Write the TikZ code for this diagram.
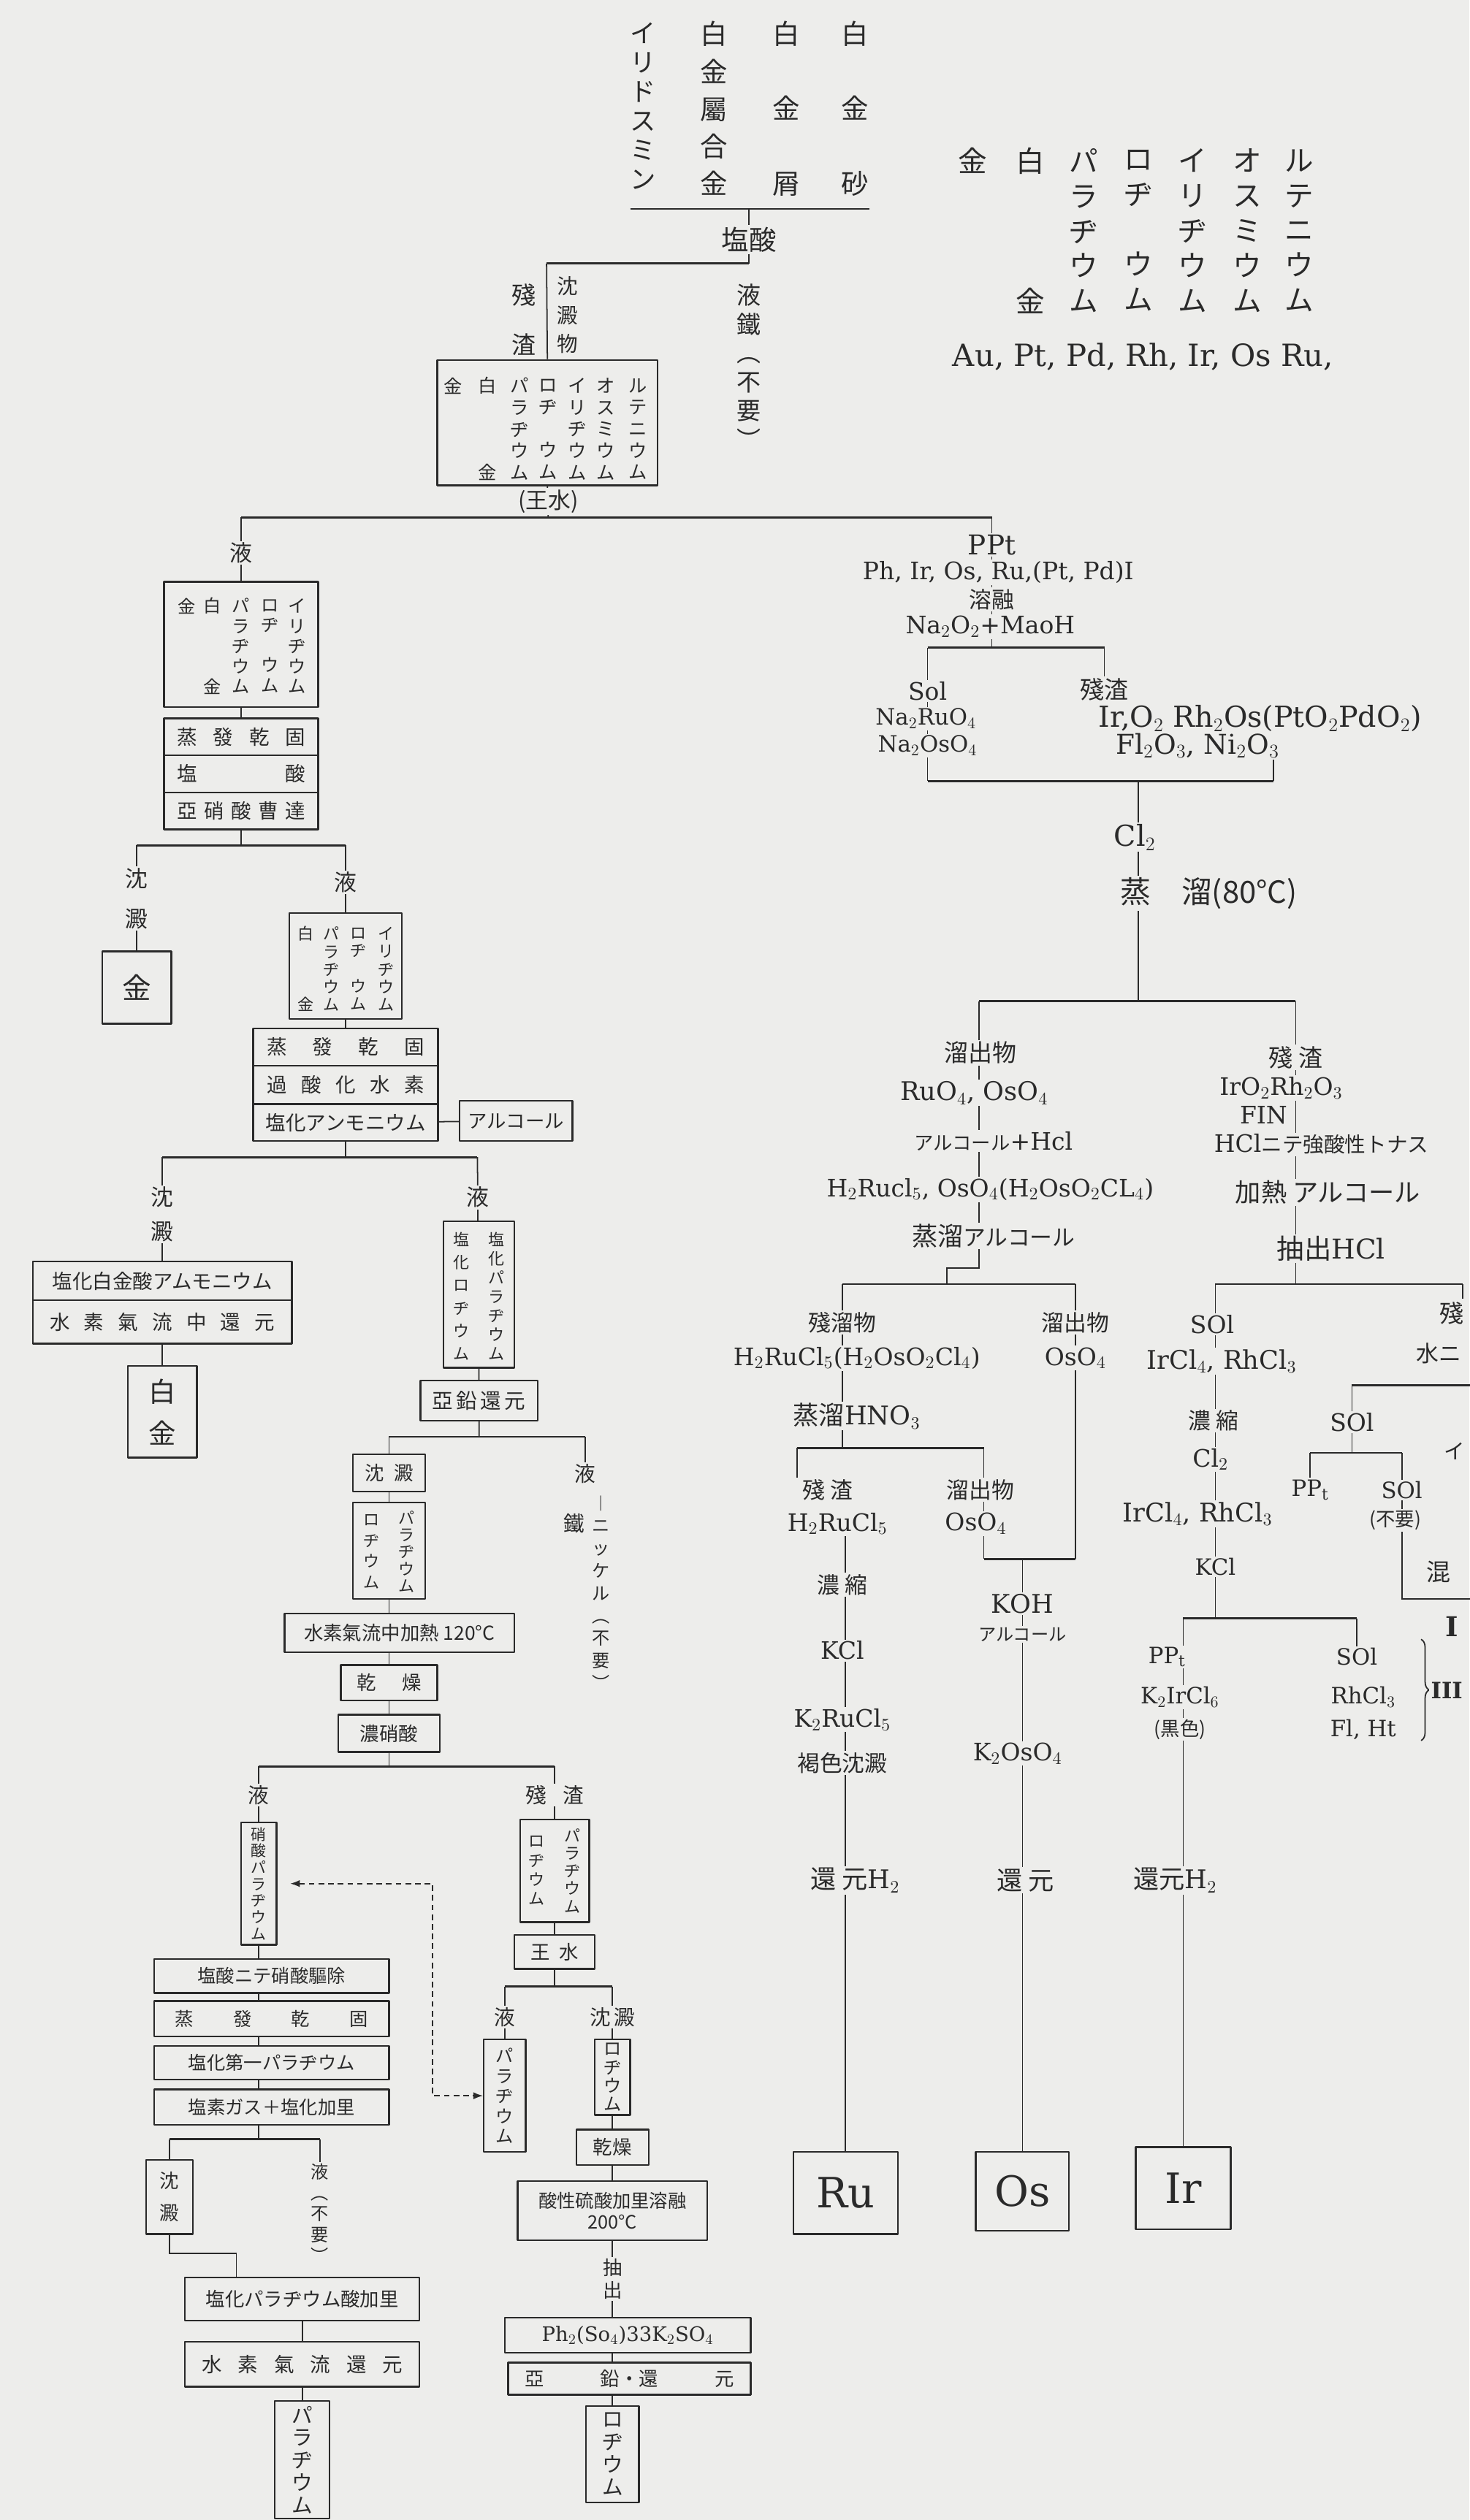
\documentclass[tikz,border=0pt]{standalone}
\usepackage{fontspec}
\setmainfont{DejaVu Serif}
\newfontfamily\jp{Noto Sans CJK JP}
\usetikzlibrary{arrows.meta,backgrounds,decorations.pathreplacing}
\definecolor{paper}{HTML}{EDEDEB}
\definecolor{ink}{HTML}{2A2A2A}
\newcommand{\fs}[2]{\fontsize{#1}{#2}\selectfont}
\newcommand{\spread}[2]{\makebox[#1][s]{#2}}

\begin{document}
\begin{tikzpicture}[x=1pt,y=-1pt,>=Latex,line cap=round,line join=round]
\tikzset{jt/.style={font=\jp\fs{#1}{#1},text=ink,fill=paper,inner sep=1pt},jt/.default=14,
lt/.style={font=\fs{#1}{#1},text=ink,fill=paper,inner sep=1pt},lt/.default=15,
vt/.style 2 args={font=\jp\fs{#1}{#2},align=center,text=ink,fill=paper,inner sep=1pt},
boxed/.style={draw=ink,line width=1.1pt,fill=paper,text=ink,inner sep=1pt},
link/.style={draw=ink,line width=0.8pt},branch/.style={draw=ink,line width=1.3pt},
dashlink/.style={draw=ink,line width=0.8pt,dash pattern=on 3.5pt off 2.5pt}}
\path[use as bounding box] (0,0) rectangle (914,1568);
\begin{scope}[on background layer]
\fill[paper] (0,0) rectangle (914,1568);
\end{scope}
% raw materials
\node[vt={16}{18.2}] (iridosmine) at (400,66) {イ\\リ\\ド\\ス\\ミ\\ン};
\node[vt={17}{23.3}] (ptalloy) at (444,67.5) {白\\金\\屬\\合\\金};
\node[vt={17}{46.5}] (ptscrap) at (489,67.5) {白\\金\\屑};
\node[vt={17}{46.5}] (ptsand) at (532,67.5) {白\\金\\砂};
\coordinate (feedL) at (392,130); \coordinate (feedR) at (541,130);
\node[jt=17] (hcl) at (466,149) {塩酸};
\coordinate (f0) at (340,164);
\node[vt={15}{31}] (zan0) at (326,199) {殘\\渣};
\node[vt={13}{18}] (chin0) at (353,196) {沈\\澱\\物};
\node[vt={15}{18}] (waste0) at (466,228) {液\\鐵\\︵\\不\\要\\︶};
\node[boxed,minimum width=137,minimum height=78] (ore) at (340.5,263) {};
\node[jt=11.5] (oreAu) at (282,240) {金};
\node[jt=11.5] (orePt) at (303,240) {白};
\node[jt=11.5] (orePtb) at (303,294) {金};
\node[vt={11.5}{13.5}] (orePd) at (323,267) {パ\\ラ\\ヂ\\ウ\\ム};
\node[vt={11.5}{13.5}] (oreRh) at (341,267) {ロ\\ヂ\\[13.5pt]ウ\\ム};
\node[vt={11.5}{13.5}] (oreIr) at (359,267) {イ\\リ\\ヂ\\ウ\\ム};
\node[vt={11.5}{13.5}] (oreOs) at (377,267) {オ\\ス\\ミ\\ウ\\ム};
\node[vt={11.5}{13.5}] (oreRu) at (397,267) {ル\\テ\\ニ\\ウ\\ム};
\node[jt=14] (aqua) at (341,312) {(王水)};
\coordinate (l1L) at (150,322); \coordinate (l1R) at (617,322);
% key
\node[jt=18] (lgAu) at (605,100) {金};
\node[jt=18] (lgPt) at (641,100) {白};
\node[jt=18] (lgPtb) at (641,187) {金};
\node[vt={18}{21.75}] (lgPd) at (674,143.5) {パ\\ラ\\ヂ\\ウ\\ム};
\node[vt={18}{21.75}] (lgRh) at (708,143.5) {ロ\\ヂ\\[21.75pt]ウ\\ム};
\node[vt={18}{21.75}] (lgIr) at (742,143.5) {イ\\リ\\ヂ\\ウ\\ム};
\node[vt={18}{21.75}] (lgOs) at (776,143.5) {オ\\ス\\ミ\\ウ\\ム};
\node[vt={18}{21.75}] (lgRu) at (808,143.5) {ル\\テ\\ニ\\ウ\\ム};
\node[lt=19] (lgsym) at (711,222) {Au, Pt, Pd, Rh, Ir, Os Ru,};
% insoluble part
\node[lt=17] (ppt) at (617,339) {PPt};
\node[lt=15] (phir) at (621,356) {Ph, Ir, Os, Ru,(Pt, Pd)I};
\node[jt=14] (yoyu) at (617,373) {溶融};
\node[lt=15] (naoh) at (616,390) {Na$_2$O$_2$+MaoH};
\coordinate (f2L) at (577,403); \coordinate (f2R) at (687,403);
\node[lt=15] (sol1) at (577,430) {Sol};
\node[lt=14] (naru) at (576,447) {Na$_2$RuO$_4$};
\node[lt=14] (naos) at (577,464) {Na$_2$OsO$_4$};
\node[jt=15] (zan1) at (687,429) {殘渣};
\node[lt=18] (iro1) at (784,447) {Ir,O$_2$ Rh$_2$Os(PtO$_2$PdO$_2$)};
\node[lt=17] (fl1) at (745,464) {Fl$_2$O$_3$, Ni$_2$O$_3$};
\coordinate (j2L) at (577,486); \coordinate (j2R) at (792,486); \coordinate (j2) at (708,486);
\node[lt=18] (cl2) at (706,521) {Cl$_2$};
\node[jt=19] (dist80) at (752,556) {蒸\quad 溜(80°C)};
\coordinate (f3L) at (609,623); \coordinate (f3R) at (806,623);
\node[jt=15] (ryu1) at (610,655) {溜出物};
\node[lt=16] (ruo4) at (606,680) {RuO$_4$, OsO$_4$};
\node[lt=15] (alhcl) at (618,710) {{\jp\fs{12}{12}アルコール}+Hcl};
\node[lt=15] (hru1) at (616,740) {H$_2$Rucl$_5$, OsO$_4$(H$_2$OsO$_2$CL$_4$)};
\node[jt=16] (stal) at (618,769) {蒸溜{\fs{14}{14}アルコール}};
\coordinate (jog1) at (609,789); \coordinate (jog2) at (589,789);
\coordinate (f4L) at (524,799); \coordinate (f4R) at (669,799);
\node[jt=14] (zanryu) at (524,823) {殘溜物};
\node[lt=15] (hru2) at (533,845) {H$_2$RuCl$_5$(H$_2$OsO$_2$Cl$_4$)};
\node[lt=16] (jhno3) at (533,881) {{\jp 蒸溜}HNO$_3$};
\coordinate (f5L) at (496,901); \coordinate (f5R) at (612,901);
\node[jt=14] (zan2) at (515,927) {殘\ 渣};
\node[lt=15] (h2ru) at (521,948) {H$_2$RuCl$_5$};
\node[jt=14] (ryu2) at (610,927) {溜出物};
\node[lt=15] (oso2) at (607,948) {OsO$_4$};
\node[jt=14] (ryu3) at (669,823) {溜出物};
\node[lt=15] (oso3) at (669,845) {OsO$_4$};
\coordinate (j6L) at (612,970); \coordinate (j6R) at (669,970); \coordinate (j6) at (636,970);
\coordinate (ruTop) at (526,948);
\node[jt=14] (nos1) at (524,986) {濃\ 縮};
\node[lt=15] (kcl1) at (524,1027) {KCl};
\node[lt=15] (k2ru) at (524,1070) {K$_2$RuCl$_5$};
\node[jt=14] (brown) at (524,1097) {褐色沈澱};
\node[lt=16] (red1) at (532,1170) {{\jp 還\ 元}H$_2$};
\node[boxed,lt=26,minimum width=65,minimum height=51] (boxRu) at (526,1364.5) {Ru};
\node[lt=16] (koh) at (636,998) {KOH};
\node[jt=11] (alc2) at (636,1017) {アルコール};
\node[lt=15] (k2os) at (633,1091) {K$_2$OsO$_4$};
\node[jt=16] (red2) at (638,1170) {還\ 元};
\node[boxed,lt=26,minimum width=58,minimum height=49] (boxOs) at (636,1363.5) {Os};
\node[jt=15] (zan3) at (806,658) {殘\ 渣};
\node[lt=15] (iro3) at (797,677) {IrO$_2$Rh$_2$O$_3$};
\node[lt=15] (fin) at (786,694) {FIN};
\node[lt=15] (hclst) at (822,712) {HCl{\jp\fs{13}{13}ニテ強酸性トナス}};
\node[jt=16] (kanetsu) at (826,742) {加熱 アルコール};
\node[lt=17] (extract) at (828,777) {{\jp 抽出}HCl};
\coordinate (f6L) at (756,799); \coordinate (f6R) at (910,799);
\node[lt=15] (sol2) at (754,824) {SOl};
\node[lt=16] (ircl1) at (760,847) {IrCl$_4$, RhCl$_3$};
\node[jt=14] (nos2) at (755,884) {濃\ 縮};
\node[lt=15] (cl2b) at (753,908) {Cl$_2$};
\node[lt=16] (ircl2) at (745,942) {IrCl$_4$, RhCl$_3$};
\node[lt=14] (kcl2) at (756,975) {KCl};
\coordinate (f7L) at (736,1007); \coordinate (f7R) at (844,1007);
\node[lt=14] (ppt2) at (726,1031) {PP$_{\mathrm{t}}$};
\node[lt=14] (k2ir) at (734,1056) {K$_2$IrCl$_6$};
\node[jt=12] (black) at (734,1076) {(黒色)};
\node[lt=14] (sol3) at (844,1031) {SOl};
\node[lt=14] (rhcl) at (848,1056) {RhCl$_3$};
\node[lt=14] (flht) at (848,1076) {Fl, Ht};
\node[lt=16] (red3) at (731,1170) {{\jp 還元}H$_2$};
\node[boxed,lt=26,minimum width=59,minimum height=51] (boxIr) at (736,1361.5) {Ir};
\node[jt=15] (zan4) at (903,817) {殘};
\node[jt=14] (mizu) at (895,842) {水ニ};
\coordinate (f8L) at (841,862); \coordinate (f8R) at (920,862);
\node[lt=15] (sol4) at (841,885) {SOl};
\coordinate (f9L) at (815,904); \coordinate (f9R) at (872,904);
\node[jt=13] (iedge) at (905,903) {イ};
\node[lt=14] (ppt3) at (815,927) {PP$_{\mathrm{t}}$};
\node[lt=14] (sol5) at (872,927) {SOl};
\node[jt=12] (fuyo) at (868,946) {(不要)};
\coordinate (mixc) at (872,995);
\node[jt=15] (mix) at (895,978) {混};
\node[lt,font=\bfseries\fs{17}{17}] (romI) at (903,1012) {I};
\node[lt,font=\bfseries\fs{14}{14}] (romIII) at (900,1052) {III};
% soluble part
\node[jt=14] (liqA) at (150,344) {液};
\node[boxed,minimum width=96,minimum height=78] (boxA) at (150,401) {};
\node[jt=11] (aAu) at (116,377) {金};
\node[jt=11] (aPt) at (132,377) {白};
\node[jt=11] (aPtb) at (132,427) {金};
\node[vt={11}{12.5}] (aPd) at (150,402) {パ\\ラ\\ヂ\\ウ\\ム};
\node[vt={11}{12.5}] (aRh) at (168,402) {ロ\\ヂ\\[12.5pt]ウ\\ム};
\node[vt={11}{12.5}] (aIr) at (185,402) {イ\\リ\\ヂ\\ウ\\ム};
\node[boxed,jt=12.5,minimum width=96,minimum height=23] (bB1) at (150,458.5) {\spread{80pt}{蒸 發 乾 固}};
\node[boxed,jt=12.5,minimum width=96,minimum height=23] (bB2) at (150,481.5) {\spread{80pt}{塩 酸}};
\node[boxed,jt=12.5,minimum width=96,minimum height=23] (bB3) at (150,504.5) {\spread{80pt}{亞 硝 酸 曹 達}};
\coordinate (fAL) at (85,526); \coordinate (fAR) at (215,526);
\node[vt={14}{25}] (chinA) at (85,559) {沈\\澱};
\node[boxed,jt=18,minimum width=43,minimum height=45] (gold) at (85,614.5) {金};
\node[jt=14] (liqB) at (215,549) {液};
\node[boxed,minimum width=70,minimum height=66] (boxC) at (215,601) {};
\node[jt=10] (cPt) at (190,581) {白};
\node[jt=10] (cPtb) at (190,625) {金};
\node[vt={10}{11}] (cPd) at (206,603) {パ\\ラ\\ヂ\\ウ\\ム};
\node[vt={10}{11}] (cRh) at (223,603) {ロ\\ヂ\\[11pt]ウ\\ム};
\node[vt={10}{11}] (cIr) at (240,603) {イ\\リ\\ヂ\\ウ\\ム};
\node[boxed,jt=12.5,minimum width=115,minimum height=23] (bD1) at (215,651.5) {\spread{98pt}{蒸 發 乾 固}};
\node[boxed,jt=12.5,minimum width=115,minimum height=24] (bD2) at (215,675) {\spread{98pt}{過 酸 化 水 素}};
\node[boxed,jt=12.5,minimum width=115,minimum height=23] (bD3) at (215,698.5) {塩化アンモニウム};
\node[boxed,jt=12,minimum width=70,minimum height=25] (alc1) at (321,697.5) {アルコール};
\coordinate (fBL) at (101,720); \coordinate (fBR) at (297,720);
\node[vt={14}{21}] (chinB) at (101,755.5) {沈\\澱};
\node[boxed,jt=12.5,minimum width=161,minimum height=24] (bE1) at (101,797) {塩化白金酸アムモニウム};
\node[boxed,jt=12.5,minimum width=161,minimum height=27] (bE2) at (101,822.5) {\spread{140pt}{水 素 氣 流 中 還 元}};
\node[boxed,vt={17}{26},minimum width=43,minimum height=57] (platinum) at (101,878.5) {白\\金};
\node[jt=14] (liqC) at (297,745) {液};
\node[boxed,minimum width=44,minimum height=91] (boxF) at (298,805.5) {};
\node[vt={10}{14.2}] (fRh) at (287,806.5) {塩\\化\\ロ\\ヂ\\ウ\\ム};
\node[vt={10}{11.8}] (fPd) at (309,806.5) {塩\\化\\パ\\ラ\\ヂ\\ウ\\ム};
\node[boxed,jt=13,minimum width=73,minimum height=25] (bG) at (298,871.5) {\spread{58pt}{亞 鉛 還 元}};
\coordinate (fCL) at (242,894); \coordinate (fCR) at (364,894);
\node[boxed,jt=12,minimum width=45,minimum height=23] (bH) at (242,916.5) {\spread{30pt}{沈 澱}};
\node[boxed,minimum width=45,minimum height=60] (boxI) at (242,965) {};
\node[vt={10}{13}] (iRh) at (231,965.5) {ロ\\ヂ\\ウ\\ム};
\node[vt={10}{10.5}] (iPd) at (253,965.5) {パ\\ラ\\ヂ\\ウ\\ム};
\node[jt=13] (liqG) at (364,917) {液};
\node[jt=13] (iron) at (357,948) {鐵};
\node[vt={11}{14}] (nickel) at (374,991) {︱\\ニ\\ッ\\ケ\\ル\\︵\\不\\要\\︶};
\node[boxed,jt=12,minimum width=143,minimum height=24] (bJ) at (248.5,1016) {水素氣流中加熱 120°C};
\node[boxed,jt=12,minimum width=60,minimum height=22] (bK) at (242,1047) {\spread{40pt}{乾 燥}};
\node[boxed,jt=12,minimum width=63,minimum height=23] (bL) at (242,1078.5) {濃硝酸};
\coordinate (fDL) at (161,1099); \coordinate (fDR) at (345,1099);
\node[jt=13] (liqD) at (161,1117) {液};
\node[boxed,vt={9.5}{10.3},minimum width=22,minimum height=76] (bM) at (161,1172) {硝\\酸\\パ\\ラ\\ヂ\\ウ\\ム};
\node[boxed,jt=11.5,minimum width=146,minimum height=21] (bN1) at (169,1229.5) {塩酸ニテ硝酸驅除};
\node[boxed,jt=11.5,minimum width=146,minimum height=22] (bN2) at (169,1256) {\spread{120pt}{蒸 發 乾 固}};
\node[boxed,jt=11.5,minimum width=146,minimum height=21] (bN3) at (169,1283.5) {塩化第一パラヂウム};
\node[boxed,jt=11.5,minimum width=146,minimum height=22] (bN4) at (169,1311) {塩素ガス＋塩化加里};
\coordinate (fEL) at (105.5,1331); \coordinate (fER) at (199,1331);
\node[boxed,vt={12}{20},minimum width=29,minimum height=46] (bO) at (105.5,1367) {沈\\澱};
\node[vt={11}{13}] (liqE) at (199,1377) {液\\︵\\不\\要\\︶};
\coordinate (pin) at (147,1402);
\node[boxed,jt=12,minimum width=146,minimum height=27] (bP) at (188,1430.5) {塩化パラヂウム酸加里};
\node[boxed,jt=12.5,minimum width=146,minimum height=28] (bQ) at (188,1471) {\spread{125pt}{水 素 氣 流 還 元}};
\node[boxed,vt={13}{14},minimum width=34,minimum height=73] (bR) at (188,1530.5) {パ\\ラ\\ヂ\\ウ\\ム};
\node[jt=13] (zanE) at (345,1117) {\spread{36pt}{殘 渣}};
\node[boxed,minimum width=43,minimum height=64] (bS) at (345,1164) {};
\node[vt={10}{12}] (sRh) at (334,1164) {ロ\\ヂ\\ウ\\ム};
\node[vt={10}{11}] (sPd) at (356,1164) {パ\\ラ\\ヂ\\ウ\\ム};
\node[boxed,jt=12,minimum width=50,minimum height=21] (bT) at (345,1214.5) {\spread{30pt}{王 水}};
\coordinate (fFL) at (314,1236); \coordinate (fFR) at (381,1236);
\node[jt=13] (liqF) at (314,1255) {液};
\node[boxed,vt={11}{12.5},minimum width=26,minimum height=70] (bU) at (314,1304) {パ\\ラ\\ヂ\\ウ\\ム};
\node[jt=13] (chinC) at (381,1255) {\spread{28pt}{沈 澱}};
\node[boxed,vt={11}{11.5},minimum width=22,minimum height=47] (bV) at (381,1292.5) {ロ\\ヂ\\ウ\\ム};
\node[boxed,jt=12,minimum width=45,minimum height=22] (bW) at (381,1336) {乾燥};
\node[boxed,font=\jp\fs{11.5}{13},align=center,minimum width=118,minimum height=37] (bX) at (381,1375.5) {酸性硫酸加里溶融\\200°C};
\node[vt={12}{14}] (extract2) at (381,1418) {抽\\出};
\node[boxed,lt=12.5,minimum width=153,minimum height=22] (bY) at (390.5,1453) {Ph$_2$(So$_4$)33K$_2$SO$_4$};
\node[boxed,jt=12,minimum width=151,minimum height=20] (bZ) at (391.5,1480) {\spread{130pt}{亞 鉛・還 元}};
\node[boxed,vt={13}{14},minimum width=33,minimum height=60] (bAA) at (381,1527) {ロ\\ヂ\\ウ\\ム};
\coordinate (dk) at (269,1304);
\begin{scope}[on background layer]
\draw[branch] (feedL) -- (feedR);
\draw[link] (hcl |- feedL) -- (hcl) -- (hcl |- f0);
\draw[branch] (f0) -- (hcl |- f0);
\draw[link] (f0) -- (ore.north);
\draw[link] (ore.south) -- (aqua) -- (aqua |- l1L);
\draw[branch] (l1L) -- (l1R);
\draw[link] (l1L) -- (bB3.center) -- (bB3.center |- fAL);
\draw[branch] (fAL) -- (fAR);
\draw[link] (fAL) -- (gold.center);
\draw[link] (fAR) -- (bD3.center) -- (bD3.center |- fBL);
\draw[link] (bD3) -- (alc1);
\draw[branch] (fBL) -- (fBR);
\draw[link] (fBL) -- (platinum.center);
\draw[link] (fBR) -- (bG.center) -- (bG.center |- fCL);
\draw[branch] (fCL) -- (fCR);
\draw[link] (fCL) -- (bL.center) -- (bL.center |- fDL);
\draw[link] (fCR) -- (liqG);
\draw[branch] (fDL) -- (fDR);
\draw[link] (fDL) -- (fDL |- fEL);
\draw[branch] (fEL) -- (fER);
\draw[link] (fEL) -- (bO.center);
\draw[link] (fER) -- (liqE);
\draw[link] (bO.center) |- (pin) -- (pin |- bP.north);
\draw[link] (bP.center) -- (bR.center);
\draw[dashlink,{Latex[length=6pt]}-{Latex[length=6pt]}] ([xshift=8pt]bM.east) -| (dk) -- (bU.west);
\draw[link] (fDR) -- (bT.center) -- (bT.center |- fFL);
\draw[branch] (fFL) -- (fFR);
\draw[link] (fFL) -- (bU.center);
\draw[link] (fFR) -- (bAA.center);
\draw[link] (l1R) -- (l1R |- f2L);
\draw[branch] (f2L) -- (f2R);
\draw[link] (f2L) -- (j2L);
\draw[link] (f2R) -- (zan1);
\draw[link] (fl1.center -| j2R) -- (j2R);
\draw[branch] (j2L) -- (j2R);
\draw[link] (j2) -- (j2 |- f3L);
\draw[branch] (f3L) -- (f3R);
\draw[link] (f3L) -- (jog1) -- (jog2) -- (jog2 |- f4L);
\draw[branch] (f4L) -- (f4R);
\draw[link] (f4L) -- (f4L |- f5L);
\draw[branch] (f5L) -- (f5R);
\draw[link] (f5L) -- (f5L |- zan2.north);
\draw[link] (ruTop) -- (ruTop |- boxRu.center);
\draw[link] (f5R) -- (j6L);
\draw[link] (f4R) -- (j6R);
\draw[branch] (j6L) -- (j6R);
\draw[link] (j6) -- (boxOs.center);
\draw[link] (f3R) -- (f3R |- f6L);
\draw[branch] (f6L) -- (f6R);
\draw[link] (f6R) -- ++(0,9);
\draw[link] (f6L) -- (f6L |- f7L);
\draw[branch] (f7L) -- (f7R);
\draw[link] (f7L) -- (f7L |- boxIr.center);
\draw[link] (f7R) -- (sol3);
\draw[branch] (f8L) -- (f8R);
\draw[link] (f8L) -- (f8L |- f9L);
\draw[branch] (f9L) -- (f9R);
\draw[link] (f9L) -- (ppt3);
\draw[link] (f9R) -- (mixc) -- ++(50,0);
\draw[link,decorate,decoration={brace,amplitude=5pt}] (884,1020) -- (884,1083);
\end{scope}
\end{tikzpicture}
\end{document}
